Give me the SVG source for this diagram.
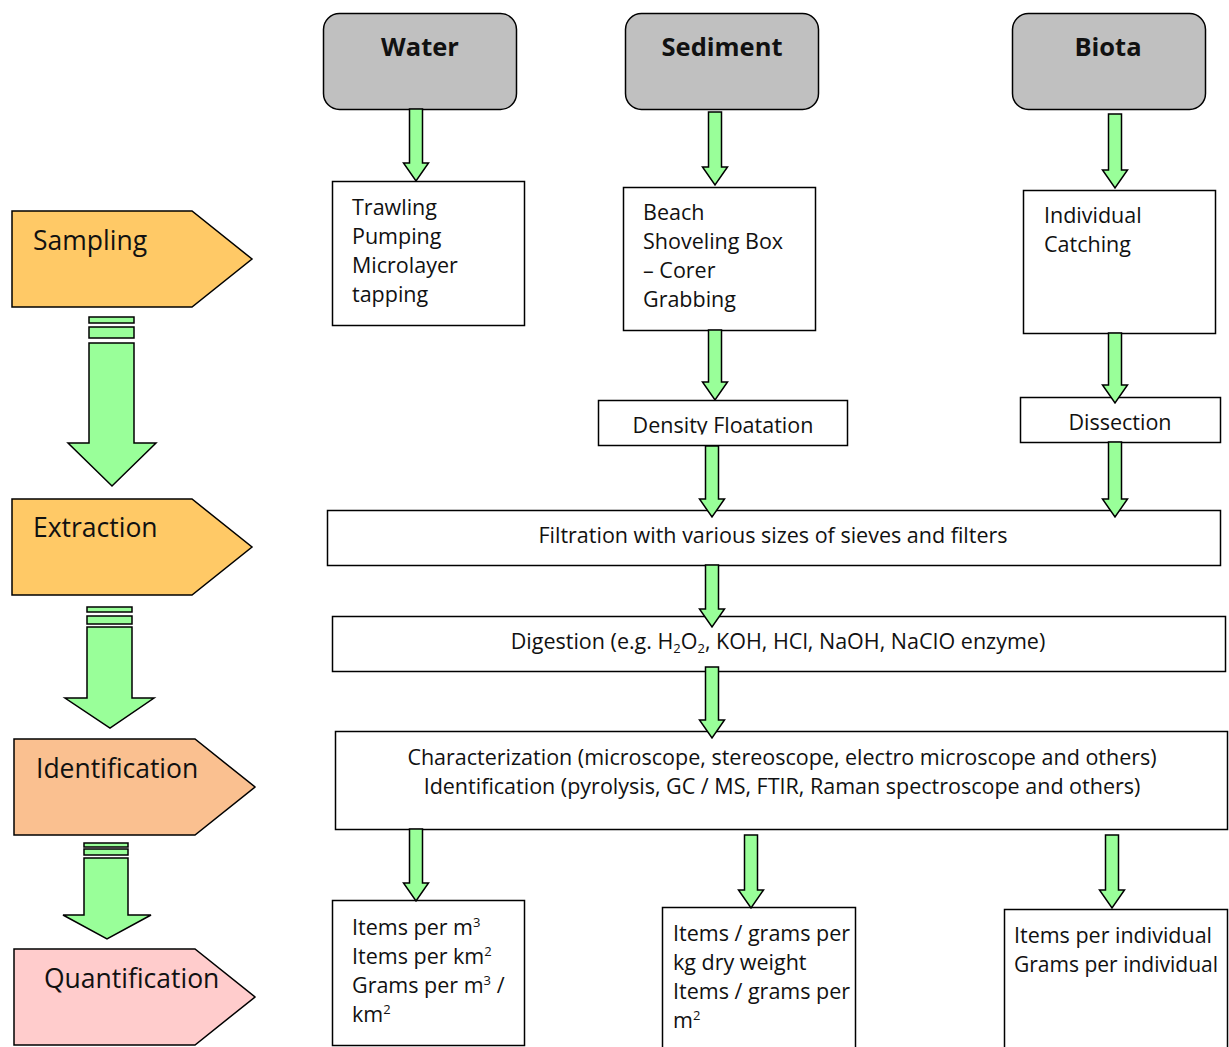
<svg xmlns="http://www.w3.org/2000/svg" width="1229" height="1047" viewBox="0 0 1229 1047">
<style>
.t{font-family:"Open Sans","Noto Sans",sans-serif;font-size:21.5px;fill:#111}
.stage{font-family:"Open Sans","Noto Sans",sans-serif;font-size:26.5px;fill:#111}
.hd{font-family:"Open Sans","Noto Sans",sans-serif;font-size:25.5px;font-weight:bold;fill:#111;text-anchor:middle}
.c{text-anchor:middle}
.box{fill:#fff;stroke:#000;stroke-width:1.5}
.src{fill:#C0C0C0;stroke:#000;stroke-width:1.5}
.ar{fill:#99FF99;stroke:#000;stroke-width:1.5;stroke-linejoin:miter}
.sup{font-size:13px}
</style>
<defs>
<clipPath id="clipDens"><rect x="598" y="400" width="250" height="34.5"/></clipPath>
</defs>

<g id="stage-sampling">
<polygon points="12,211 192,211 252,259 192,307 12,307" fill="#FFC966" stroke="#000" stroke-width="1.5"/>
<text class="stage" x="33" y="250">Sampling</text>
</g>
<g id="stage-extraction">
<polygon points="12,499 192,499 252,547 192,595 12,595" fill="#FFC966" stroke="#000" stroke-width="1.5"/>
<text class="stage" x="33" y="537">Extraction</text>
</g>
<g id="stage-identification">
<polygon points="14,739 195,739 255,787 195,835 14,835" fill="#FAC090" stroke="#000" stroke-width="1.5"/>
<text class="stage" x="36" y="778">Identification</text>
</g>
<g id="stage-quantification">
<polygon points="14,949 195,949 255,997 195,1045 14,1045" fill="#FFCCCC" stroke="#000" stroke-width="1.5"/>
<text class="stage" x="44" y="988">Quantification</text>
</g>

<g id="src-water">
<rect class="src" x="323.5" y="13.5" width="193" height="96" rx="16"/>
<text class="hd" x="420" y="56">Water</text>
</g>
<g id="src-sediment">
<rect class="src" x="625.5" y="13.5" width="193" height="96" rx="16"/>
<text class="hd" x="722" y="56">Sediment</text>
</g>
<g id="src-biota">
<rect class="src" x="1012.5" y="13.5" width="193" height="96" rx="16"/>
<text class="hd" x="1108" y="56">Biota</text>
</g>

<g id="water-sampling">
<rect class="box" x="332.5" y="181.5" width="192" height="144"/>
<text class="t" x="352" y="215">Trawling</text>
<text class="t" x="352" y="244">Pumping</text>
<text class="t" x="352" y="273">Microlayer</text>
<text class="t" x="352" y="302">tapping</text>
</g>
<g id="sediment-sampling">
<rect class="box" x="623.5" y="187.5" width="192" height="143"/>
<text class="t" x="643" y="220">Beach</text>
<text class="t" x="643" y="249">Shoveling Box</text>
<text class="t" x="643" y="278">– Corer</text>
<text class="t" x="643" y="307">Grabbing</text>
</g>
<g id="biota-sampling">
<rect class="box" x="1023.5" y="190.5" width="192" height="143"/>
<text class="t" x="1044" y="223">Individual</text>
<text class="t" x="1044" y="252">Catching</text>
</g>

<g id="density-floatation">
<rect class="box" x="598.5" y="400.5" width="249" height="45"/>
<text class="t c" x="723" y="433" clip-path="url(#clipDens)">Density Floatation</text>
</g>
<g id="dissection">
<rect class="box" x="1020.5" y="397.5" width="200" height="45"/>
<text class="t c" x="1120" y="430">Dissection</text>
</g>

<g id="filtration">
<rect class="box" x="327.5" y="510.5" width="893" height="55"/>
<text class="t c" x="773" y="543">Filtration with various sizes of sieves and filters</text>
</g>
<g id="digestion">
<rect class="box" x="332.5" y="616.5" width="893" height="55"/>
<text class="t c" x="778" y="649">Digestion (e.g. H<tspan class="sup" dy="4">2</tspan><tspan dy="-4">O</tspan><tspan class="sup" dy="4">2</tspan><tspan dy="-4">, KOH, HCl, NaOH, NaCIO enzyme)</tspan></text>
</g>
<g id="characterization">
<rect class="box" x="335.5" y="731.5" width="892" height="98"/>
<text class="t c" x="782" y="765">Characterization (microscope, stereoscope, electro microscope and others)</text>
<text class="t c" x="782" y="794">Identification (pyrolysis, GC / MS, FTIR, Raman spectroscope and others)</text>
</g>

<g id="water-quant">
<rect class="box" x="332.5" y="900.5" width="192" height="145"/>
<text class="t" x="352" y="935">Items per m<tspan class="sup" dy="-8">3</tspan></text>
<text class="t" x="352" y="964">Items per km<tspan class="sup" dy="-8">2</tspan></text>
<text class="t" x="352" y="993">Grams per m<tspan class="sup" dy="-8">3</tspan><tspan dy="8"> /</tspan></text>
<text class="t" x="352" y="1022">km<tspan class="sup" dy="-8">2</tspan></text>
</g>
<g id="sediment-quant">
<path class="box" d="M662.5,1050 V907.5 H855.5 V1050"/>
<text class="t" x="673" y="941">Items / grams per</text>
<text class="t" x="673" y="970">kg dry weight</text>
<text class="t" x="673" y="999">Items / grams per</text>
<text class="t" x="673" y="1028">m<tspan class="sup" dy="-8">2</tspan></text>
</g>
<g id="biota-quant">
<path class="box" d="M1004.5,1050 V909.5 H1227.5 V1050"/>
<text class="t" x="1014" y="943" textLength="198" lengthAdjust="spacingAndGlyphs">Items per individual</text>
<text class="t" x="1014" y="972" textLength="204" lengthAdjust="spacingAndGlyphs">Grams per individual</text>
</g>

<g id="connectors">
<rect class="ar" x="89" y="317" width="45" height="6"/>
<rect class="ar" x="89" y="327" width="45" height="11"/>
<polygon class="ar" points="89,343 134,343 134,443 156,443 112,486 68,443 89,443"/>
<rect class="ar" x="87" y="607" width="45" height="5"/>
<rect class="ar" x="87" y="616" width="45" height="8"/>
<polygon class="ar" points="87,627 132,627 132,698 154,698 110,728 65,698 87,698"/>
<rect class="ar" x="84" y="843" width="44" height="4"/>
<rect class="ar" x="84" y="849" width="44" height="6"/>
<polygon class="ar" points="84,858 128,858 128,915 151,915 107,939 63,915 84,915"/>

<polygon class="ar" points="409.5,109 422.5,109 422.5,163 428.5,163 416,181 403.5,163 409.5,163"/>
<polygon class="ar" points="708.5,112 721.5,112 721.5,167 727.5,167 715,185 702.5,167 708.5,167"/>
<polygon class="ar" points="1108.5,114 1121.5,114 1121.5,170 1127.5,170 1115,188 1102.5,170 1108.5,170"/>
<polygon class="ar" points="708.5,330 721.5,330 721.5,382 727.5,382 715,400 702.5,382 708.5,382"/>
<polygon class="ar" points="1108.5,333 1121.5,333 1121.5,385 1127.5,385 1115,403 1102.5,385 1108.5,385"/>
<polygon class="ar" points="705.5,446 718.5,446 718.5,499 724.5,499 712,517 699.5,499 705.5,499"/>
<polygon class="ar" points="1108.5,442 1121.5,442 1121.5,499 1127.5,499 1115,517 1102.5,499 1108.5,499"/>
<polygon class="ar" points="705.5,565 718.5,565 718.5,609 724.5,609 712,627 699.5,609 705.5,609"/>
<polygon class="ar" points="705.5,667 718.5,667 718.5,720 724.5,720 712,738 699.5,720 705.5,720"/>
<polygon class="ar" points="409.5,829 422.5,829 422.5,883 428.5,883 416,901 403.5,883 409.5,883"/>
<polygon class="ar" points="744.5,835 757.5,835 757.5,890 763.5,890 751,908 738.5,890 744.5,890"/>
<polygon class="ar" points="1105.5,835 1118.5,835 1118.5,890 1124.5,890 1112,908 1099.5,890 1105.5,890"/>
</g>
</svg>
